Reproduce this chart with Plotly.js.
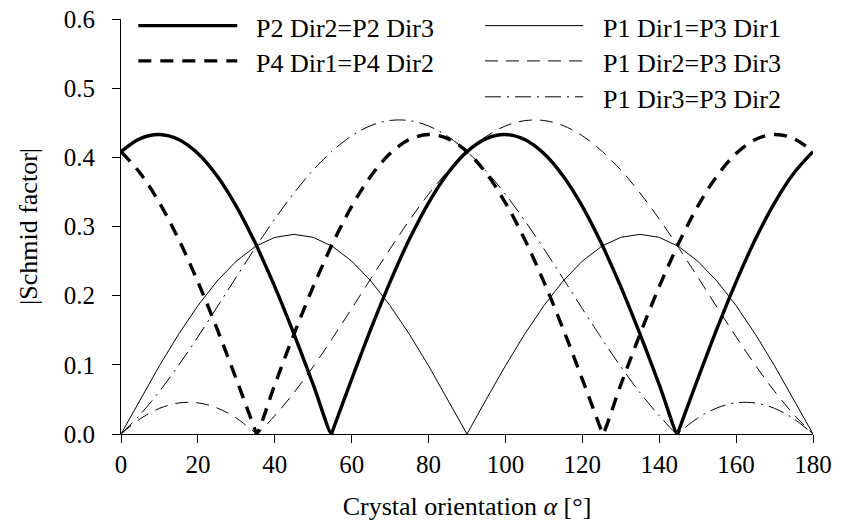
<!DOCTYPE html>
<html>
<head>
<meta charset="utf-8">
<script src="https://cdn.plot.ly/plotly-3.0.1.min.js"></script>
<style>html,body{margin:0;padding:0;background:#fff;}</style>
</head>
<body>
<div id="chart" style="width:841px;height:527px;"></div>
<script>
// Crystal orientation alpha [deg]
const alpha = [0,5,10,15,20,25,30,35,35.26,40,45,50,54.74,55,60,65,70,75,80,85,90,
  95,100,105,110,115,120,125,125.26,130,135,140,144.74,145,150,155,160,165,170,175,180];

// |Schmid factor| values
const p2Dir2 = [0.40825,0.42711,0.43300,0.42573,0.40551,0.37299,0.32913,0.27526,0.27217,0.21303,0.14434,0.07126,0,0.00399,0.07913,0.15185,0.21996,0.28139,0.33426,0.37698,0.40825,
  0.42711,0.43300,0.42573,0.40551,0.37299,0.32913,0.27526,0.27217,0.21303,0.14434,0.07126,0,0.00399,0.07912,0.15185,0.21995,0.28139,0.33426,0.37698,0.40825];
const p4Dir1 = [0.40825,0.37698,0.33426,0.28139,0.21995,0.15185,0.07912,0.00399,0,0.07126,0.14434,0.21303,0.27217,0.27526,0.32913,0.37299,0.40551,0.42573,0.43300,0.42711,0.40825,
  0.37698,0.33426,0.28139,0.21996,0.15185,0.07913,0.00399,0,0.07126,0.14434,0.21303,0.27217,0.27526,0.32913,0.37299,0.40551,0.42573,0.43300,0.42711,0.40825];
const p1Dir1 = [0,0.05013,0.09873,0.14434,0.18556,0.22114,0.25,0.27127,0.27217,0.28429,0.28868,0.28429,0.27217,0.27127,0.25,0.22114,0.18556,0.14434,0.09873,0.05013,0,
  0.05013,0.09873,0.14434,0.18556,0.22114,0.25,0.27127,0.27217,0.28429,0.28868,0.28429,0.27217,0.27127,0.25,0.22114,0.18556,0.14434,0.09873,0.05013,0];
const p1Dir2 = [0,0.02196,0.03706,0.04482,0.04502,0.03765,0.02294,0.00132,0,0.02654,0.05979,0.09742,0.13608,0.13831,0.18119,0.22477,0.26771,0.30874,0.34657,0.38008,0.40825,
  0.43021,0.44531,0.45307,0.45327,0.44591,0.43119,0.40957,0.40825,0.38171,0.34847,0.31083,0.27217,0.26995,0.22706,0.18349,0.14053,0.09952,0.06168,0.02817,0];
const p1Dir3 = [0,0.02817,0.06168,0.09952,0.14053,0.18349,0.22706,0.26995,0.27217,0.31083,0.34847,0.38171,0.40825,0.40957,0.43119,0.44591,0.45327,0.45307,0.44531,0.43021,0.40825,
  0.38008,0.34657,0.30874,0.26771,0.22477,0.18119,0.13831,0.13608,0.09742,0.05979,0.02654,0,0.00132,0.02294,0.03765,0.04502,0.04482,0.03706,0.02196,0];

const seriesNames = ['P2 Dir2=P2 Dir3','P4 Dir1=P4 Dir2','P1 Dir1=P3 Dir1','P1 Dir2=P3 Dir3','P1 Dir3=P3 Dir2'];
const xTickVals = [0,20,40,60,80,100,120,140,160,180];
const yTickVals = [0.0,0.1,0.2,0.3,0.4,0.5,0.6];

const seriesData = [p2Dir2,p4Dir1,p1Dir1,p1Dir2,p1Dir3];
const styles = [
  {width:3.4, dash:'solid', shape:'spline'},
  {width:3.4, dash:'13px,9px', shape:'spline'},
  {width:1, dash:'solid', shape:'linear'},
  {width:1, dash:'13px,8px', shape:'spline'},
  {width:1, dash:'16px,6px,2px,6px', shape:'spline'}
];
const FONT = '"Liberation Serif", "Times New Roman", serif';
const FS = 25;
const LEG_FS = 26;

const traces = seriesData.map((ys,i)=>({
  x: alpha, y: ys, type:'scatter', mode:'lines', name: seriesNames[i],
  line:{color:'#000', width:styles[i].width, dash:styles[i].dash, shape:styles[i].shape, smoothing:1},
  showlegend:false, hoverinfo:'skip'
}));

// legend layout (positions in plot-area fraction)
const legPos = [
  {x0:0.025, x1:0.168, y:0.984, tx:0.192},
  {x0:0.025, x1:0.168, y:0.899, tx:0.192},
  {x0:0.526, x1:0.668, y:0.984, tx:0.693},
  {x0:0.526, x1:0.668, y:0.899, tx:0.693},
  {x0:0.526, x1:0.668, y:0.8125, tx:0.693}
];
const shapes = legPos.map((p,i)=>({
  type:'line', xref:'paper', yref:'paper', x0:p.x0, x1:p.x1, y0:p.y, y1:p.y,
  line:{color:'#000', width:styles[i].width, dash:styles[i].dash}
}));
const annotations = legPos.map((p,i)=>({
  xref:'paper', yref:'paper', x:p.tx, y:p.y-0.007, xanchor:'left', yanchor:'middle',
  text: seriesNames[i], showarrow:false, font:{family:FONT, size:LEG_FS, color:'#000'}
}));

const layout = {
  width:841, height:527,
  margin:{l:121, r:28, t:19, b:93},
  paper_bgcolor:'#fff', plot_bgcolor:'#fff',
  font:{family:FONT, size:FS, color:'#000'},
  xaxis:{
    range:[0,180], tickvals:xTickVals, ticks:'outside', ticklen:8, tickwidth:1, tickcolor:'#000',
    showline:true, linecolor:'#000', linewidth:1, showgrid:false, zeroline:false,
    tickfont:{family:FONT, size:FS, color:'#000'}, ticklabelstandoff:0,
    title:{text:'Crystal orientation <i>α</i> [°]', font:{family:FONT, size:LEG_FS, color:'#000'}, standoff:19},
    automargin:false, fixedrange:true
  },
  yaxis:{
    range:[0,0.6], tickvals:yTickVals, tickformat:'.1f', ticks:'outside', ticklen:8, tickwidth:1, tickcolor:'#000',
    showline:true, linecolor:'#000', linewidth:1, showgrid:false, zeroline:false,
    tickfont:{family:FONT, size:FS, color:'#000'}, ticklabelstandoff:12,
    title:{text:'|Schmid factor|', font:{family:FONT, size:LEG_FS, color:'#000'}, standoff:18},
    automargin:false, fixedrange:true
  },
  shapes:shapes,
  annotations:annotations,
  showlegend:false
};

Plotly.newPlot('chart', traces, layout, {displayModeBar:false, staticPlot:true});
</script>
</body>
</html>
